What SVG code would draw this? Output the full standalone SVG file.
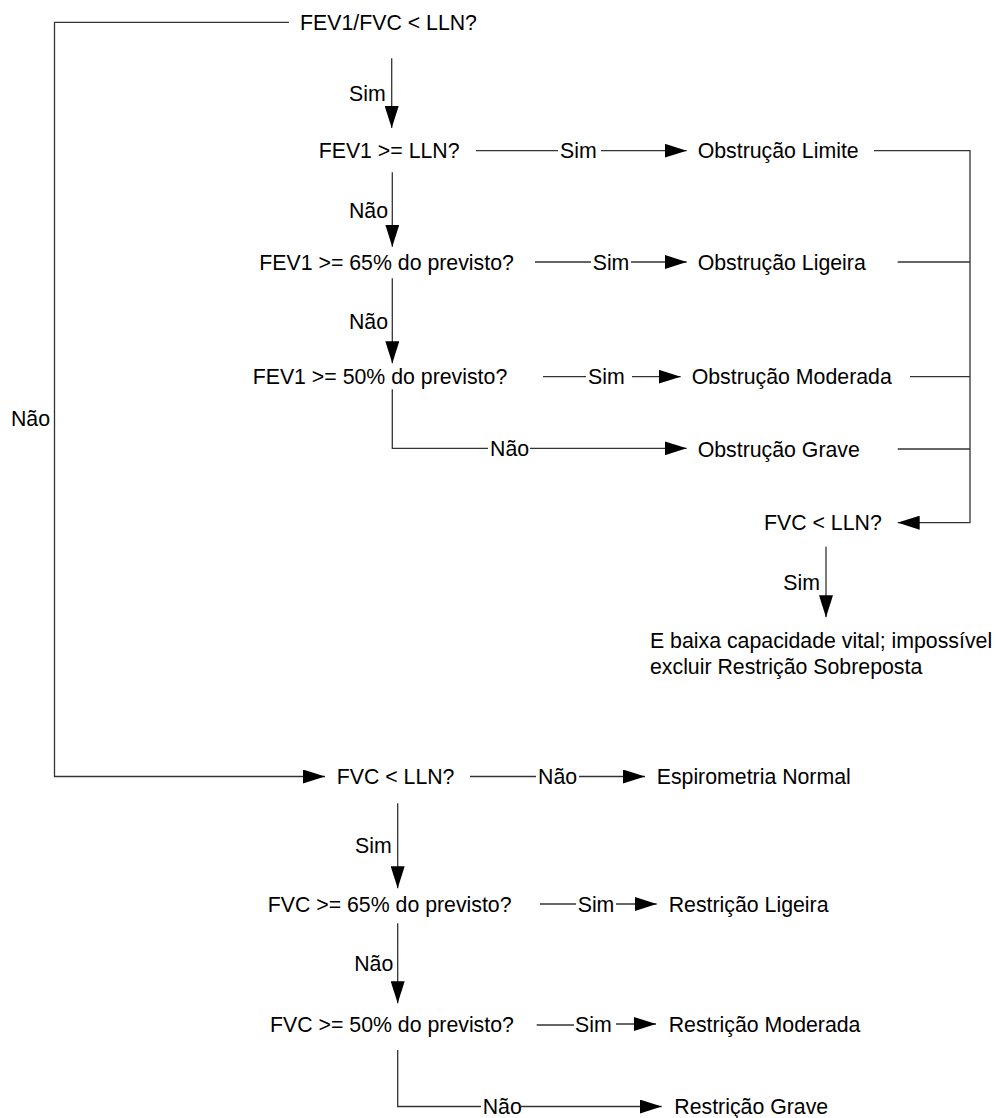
<svg xmlns="http://www.w3.org/2000/svg" width="997" height="1118" viewBox="0 0 997 1118">
<style>
text{font-family:"Liberation Sans",Arial,sans-serif;font-size:21.3px;fill:#000}
.c{fill:none;stroke:#333;stroke-width:1.3}
.e{text-anchor:end}
</style>
<defs>
<marker id="ah" markerUnits="userSpaceOnUse" markerWidth="22" markerHeight="14" refX="22" refY="7" orient="auto" viewBox="0 0 22 14">
<path d="M0,0 L22,7 L0,14 Z" fill="#000"/>
</marker>
</defs>
<rect width="997" height="1118" fill="#fff"/>
<g id="connectors">
<path class="c" d="M289,22.3 H54.5 V776.5 H325" marker-end="url(#ah)"/>
<text x="50" y="425.5" class="e">Não</text>
<path class="c" d="M391.7,58.3 V128" marker-end="url(#ah)"/>
<text x="385.7" y="101" class="e">Sim</text>
<path class="c" d="M476,150.7 H558"/>
<text x="560" y="158.3">Sim</text>
<path class="c" d="M601,150.7 H686.7" marker-end="url(#ah)"/>
<path class="c" d="M392.3,172.3 V246.7" marker-end="url(#ah)"/>
<text x="388" y="217.6" class="e">Não</text>
<path class="c" d="M535,262 H591"/>
<text x="592.7" y="269.6">Sim</text>
<path class="c" d="M631,262 H686.7" marker-end="url(#ah)"/>
<path class="c" d="M392.3,278.3 V363.3" marker-end="url(#ah)"/>
<text x="388" y="329.3" class="e">Não</text>
<path class="c" d="M543,376.7 H586"/>
<text x="588" y="384.3">Sim</text>
<path class="c" d="M632,376.7 H680.7" marker-end="url(#ah)"/>
<path class="c" d="M392.3,389.3 V448.3 H488"/>
<text x="490" y="455.9">Não</text>
<path class="c" d="M530,448.3 H686.7" marker-end="url(#ah)"/>
<path class="c" d="M874,150.7 H970 V522.7 H897.7" marker-end="url(#ah)"/>
<path class="c" d="M897.7,262 H970"/>
<path class="c" d="M910,376.7 H970"/>
<path class="c" d="M897.7,449 H970"/>
<path class="c" d="M826,546.7 V617.3" marker-end="url(#ah)"/>
<text x="820" y="590.3" class="e">Sim</text>
<path class="c" d="M470,776.5 H536"/>
<text x="538" y="784.1">Não</text>
<path class="c" d="M579,776.5 H645" marker-end="url(#ah)"/>
<path class="c" d="M397.7,803.3 V888.3" marker-end="url(#ah)"/>
<text x="391.7" y="853.3" class="e">Sim</text>
<path class="c" d="M540,904 H576"/>
<text x="577.7" y="911.6">Sim</text>
<path class="c" d="M616,904 H656.7" marker-end="url(#ah)"/>
<path class="c" d="M397.7,923.3 V1003.3" marker-end="url(#ah)"/>
<text x="393.3" y="970.9" class="e">Não</text>
<path class="c" d="M536.7,1025 H574"/>
<text x="575" y="1031.6">Sim</text>
<path class="c" d="M616,1024 H656" marker-end="url(#ah)"/>
<path class="c" d="M397.7,1050 V1106.5 H481"/>
<text x="482.7" y="1113.5">Não</text>
<path class="c" d="M521,1106.5 H661.7" marker-end="url(#ah)"/>
</g>
<g id="n1"><text x="300" y="29.9">FEV1/FVC &lt; LLN?</text></g>
<g id="n2"><text x="318.7" y="158.3">FEV1 &gt;= LLN?</text></g>
<g id="n3"><text x="259.3" y="269.6">FEV1 &gt;= 65% do previsto?</text></g>
<g id="n4"><text x="252.7" y="384.3">FEV1 &gt;= 50% do previsto?</text></g>
<g id="n5"><text x="697.7" y="158.3">Obstrução Limite</text></g>
<g id="n6"><text x="697.7" y="269.6">Obstrução Ligeira</text></g>
<g id="n7"><text x="691.7" y="384.3">Obstrução Moderada</text></g>
<g id="n8"><text x="697.7" y="456.6">Obstrução Grave</text></g>
<g id="n9"><text x="764" y="530.3">FVC &lt; LLN?</text></g>
<g id="n10"><text x="650" y="648.3">E baixa capacidade vital; impossível</text><text x="650" y="674.3">excluir Restrição Sobreposta</text></g>
<g id="n11"><text x="336.7" y="784.1">FVC &lt; LLN?</text></g>
<g id="n12"><text x="656.7" y="784.1">Espirometria Normal</text></g>
<g id="n13"><text x="267.7" y="911.6">FVC &gt;= 65% do previsto?</text></g>
<g id="n14"><text x="668.7" y="911.6">Restrição Ligeira</text></g>
<g id="n15"><text x="270" y="1031.6">FVC &gt;= 50% do previsto?</text></g>
<g id="n16"><text x="668.7" y="1031.6">Restrição Moderada</text></g>
<g id="n17"><text x="674.3" y="1113.5">Restrição Grave</text></g>
</svg>
